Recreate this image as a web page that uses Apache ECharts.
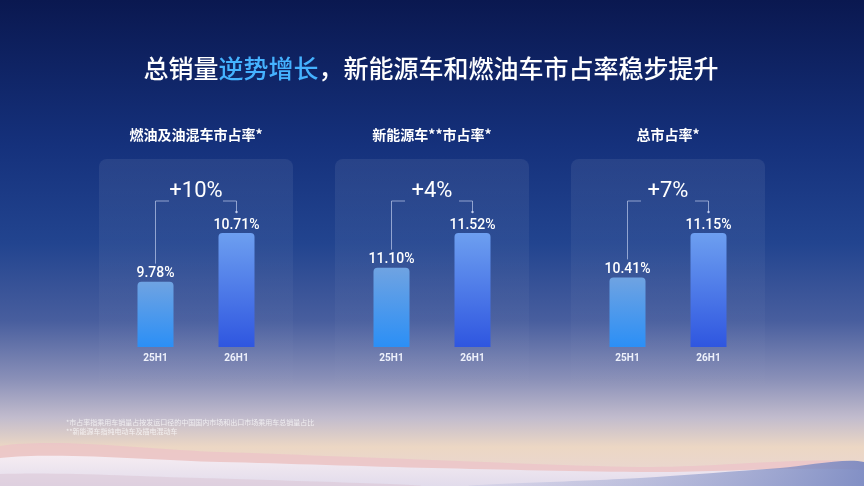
<!DOCTYPE html>
<html>
<head>
<meta charset="utf-8">
<script src="https://cdn.jsdelivr.net/npm/echarts@6/dist/echarts.min.js"></script>
<style>
  html, body { margin: 0; padding: 0; background: #0a1850; }
  #chart { width: 864px; height: 486px; }
</style>
</head>
<body>
<div id="chart"></div>
<script>
// Chart data
const panelTitles = ['燃油及油混车市占率*', '新能源车**市占率*', '总市占率*'];
const categories = ['25H1', '26H1'];
const share25H1 = [9.78, 11.10, 10.41];
const share26H1 = [10.71, 11.52, 11.15];
const growthLabels = ['+10%', '+4%', '+7%'];
const axisMins = [8.53, 10.14, 9.25];

const footnotes = [
    '*市占率指乘用车销量占按发运口径的中国国内市场和出口市场乘用车总销量占比',
    '**新能源车指纯电动车及插电混动车'
];

const FONT = '"Noto Sans CJK SC", "Noto Sans", sans-serif';
const NUM_FONT = 'Roboto, "Noto Sans", sans-serif';

// layout of the three panels
const gridLefts = [115, 351, 587];
const gridWidth = 162;
const gridTop = 233;
const gridHeight = 114;

// plain gradient object (vertical unless horizontal is set)
function gradient(stops, horizontal) {
    return {
        type: 'linear',
        x: 0, y: 0,
        x2: horizontal ? 1 : 0,
        y2: horizontal ? 0 : 1,
        colorStops: stops.map(s => ({ offset: s[0], color: s[1] }))
    };
}

const chart = echarts.init(document.getElementById('chart'));

const grids = [];
const xAxes = [];
const yAxes = [];
const series = [];
const panelGraphics = [];

const barColors = [
    gradient([[0, '#6fa3e2'], [1, '#2b8ff6']]),
    gradient([[0, '#6d9ff0'], [1, '#2f56e0']])
];

panelTitles.forEach((title, i) => {
    grids.push({ left: gridLefts[i], top: gridTop, width: gridWidth, height: gridHeight });
    xAxes.push({
        gridIndex: i,
        type: 'category',
        data: categories,
        axisLine: { show: false },
        axisTick: { show: false },
        axisLabel: { color: '#eef1fb', fontSize: 10, fontWeight: 'bold', fontFamily: NUM_FONT, margin: 6 }
    });
    yAxes.push({
        gridIndex: i,
        type: 'value',
        min: axisMins[i],
        max: share26H1[i],
        show: false,
        splitLine: { show: false }
    });

    series.push({
        type: 'bar',
        xAxisIndex: i,
        yAxisIndex: i,
        barWidth: 36,
        data: [share25H1[i], share26H1[i]].map((v, k) => ({
            value: v,
            itemStyle: { color: barColors[k], borderRadius: [4, 4, 0, 0] }
        })),
        label: {
            show: true,
            position: 'top',
            distance: 1,
            color: '#ffffff',
            fontSize: 14,
            fontWeight: 500,
            fontFamily: NUM_FONT,
            formatter: p => p.value.toFixed(2) + '%'
        }
    });

    // bracket with growth figure
    series.push({
        type: 'custom',
        xAxisIndex: i,
        yAxisIndex: i,
        clip: false,
        silent: true,
        encode: { x: 0, y: 1 },
        data: [[0, share25H1[i], share26H1[i]]],
        renderItem: function (params, api) {
            const p0 = api.coord([0, api.value(1)]);
            const p1 = api.coord([1, api.value(2)]);
            const topY = p1[1] - 32;
            const mid = (p0[0] + p1[0]) / 2;
            const gap = 27;
            const lineStyle = { stroke: 'rgba(190,202,235,0.7)', lineWidth: 1, fill: null };
            return {
                type: 'group',
                children: [
                    {
                        type: 'polyline',
                        shape: { points: [[p0[0], p0[1] - 18], [p0[0], topY], [mid - gap, topY]] },
                        style: lineStyle
                    },
                    {
                        type: 'polyline',
                        shape: { points: [[mid + gap, topY], [p1[0], topY], [p1[0], p1[1] - 21]] },
                        style: lineStyle
                    },
                    {
                        type: 'circle',
                        shape: { cx: p1[0], cy: p1[1] - 21, r: 1.2 },
                        style: { fill: 'rgba(210,220,245,0.9)' }
                    },
                    {
                        type: 'text',
                        x: mid,
                        y: topY - 10,
                        style: {
                            text: growthLabels[i],
                            fill: '#ffffff',
                            fontSize: 22,
                            fontFamily: NUM_FONT,
                            align: 'center',
                            verticalAlign: 'middle'
                        }
                    }
                ]
            };
        }
    });

    const cx = gridLefts[i] + gridWidth / 2;
    panelGraphics.push({
        type: 'rect',
        shape: { x: cx - 97, y: 159, width: 194, height: 240, r: 8 },
        style: {
            fill: gradient([[0, 'rgba(255,255,255,0.075)'], [0.6, 'rgba(255,255,255,0.03)'], [1, 'rgba(255,255,255,0)']])
        },
        z: -1
    });
    panelGraphics.push({
        type: 'text',
        x: cx,
        y: 135,
        style: {
            text: title,
            fill: '#ffffff',
            fontSize: 14,
            fontWeight: 'bold',
            fontFamily: FONT,
            align: 'center',
            verticalAlign: 'middle'
        }
    });
});

// soft waves along the bottom edge
const backgroundGraphics = [
    {
        type: 'polygon',
        shape: {
            points: [[0, 446], [220, 452], [432, 460], [650, 467], [864, 462], [864, 486], [0, 486]],
            smooth: 0.3
        },
        style: { fill: 'rgba(236,190,200,0.6)' },
        z: -3
    },
    {
        type: 'polygon',
        shape: {
            points: [[0, 458], [220, 462], [432, 468], [650, 472], [864, 470], [864, 486], [0, 486]],
            smooth: 0.3
        },
        style: {
            fill: gradient([[0, 'rgba(246,238,244,0.95)'], [1, 'rgba(222,218,236,0.95)']])
        },
        z: -2
    },
    {
        type: 'polygon',
        shape: {
            points: [[0, 474], [200, 478], [420, 486], [0, 486]],
            smooth: 0.3
        },
        style: { fill: 'rgba(220,200,215,0.6)' },
        z: -2
    },
    {
        type: 'polygon',
        shape: {
            points: [[470, 486], [640, 478], [780, 468], [864, 462], [864, 486]],
            smooth: 0.3
        },
        style: {
            fill: gradient([[0, 'rgba(170,178,215,0.2)'], [1, 'rgba(118,134,192,0.9)']], true)
        },
        z: -1
    }
];

const textGraphics = [
    {
        type: 'text',
        x: 431,
        y: 68,
        style: {
            text: '{w|总销量}{b|逆势增长}{w|，新能源车和燃油车市占率稳步提升}',
            align: 'center',
            verticalAlign: 'middle',
            rich: {
                w: { fill: '#ffffff', fontSize: 25, fontWeight: 500, fontFamily: FONT },
                b: { fill: '#45b2ff', fontSize: 25, fontWeight: 500, fontFamily: FONT }
            }
        }
    },
    {
        type: 'text',
        x: 66,
        y: 418,
        style: {
            text: footnotes.join('\n'),
            fill: 'rgba(255,255,255,0.72)',
            fontSize: 7,
            lineHeight: 9,
            fontFamily: FONT
        }
    }
];

const option = {
    backgroundColor: gradient([
        [0, '#0a1850'],
        [0.3, '#15317c'],
        [0.5, '#22448f'],
        [0.66, '#485e9e'],
        [0.78, '#8a90b8'],
        [0.86, '#c2bccd'],
        [0.92, '#ecd7c4'],
        [1, '#e8d6d6']
    ]),
    animation: false,
    grid: grids,
    xAxis: xAxes,
    yAxis: yAxes,
    series: series,
    graphic: backgroundGraphics.concat(panelGraphics, textGraphics)
};

chart.setOption(option);
</script>
</body>
</html>
